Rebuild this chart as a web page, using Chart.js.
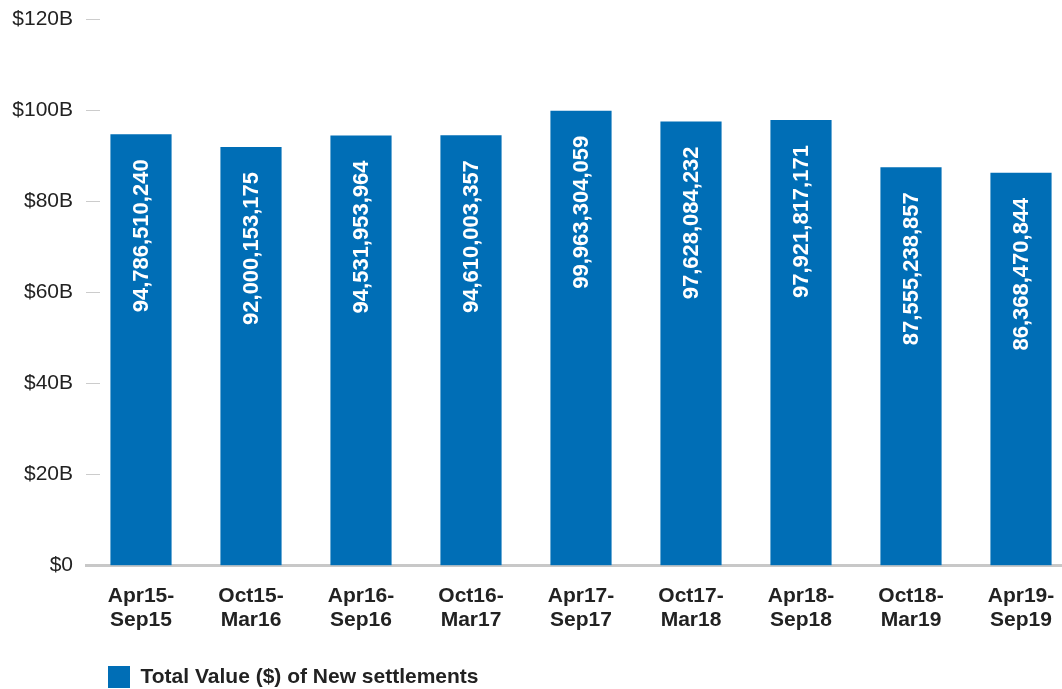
<!DOCTYPE html>
<html>
<head>
<meta charset="utf-8">
<script src="https://cdn.jsdelivr.net/npm/chart.js@4/dist/chart.umd.min.js"></script>
<style>
  html, body { margin: 0; padding: 0; background: #ffffff; overflow: hidden; }
  #wrap { position: relative; width: 1062px; height: 689px; overflow: hidden; }
  #c { position: absolute; left: 0; top: -20px; }
</style>
</head>
<body>
<div id="wrap"><canvas id="c" width="1076" height="718"></canvas></div>
<script>
const categories = [
  ["Apr15-", "Sep15"], ["Oct15-", "Mar16"], ["Apr16-", "Sep16"],
  ["Oct16-", "Mar17"], ["Apr17-", "Sep17"], ["Oct17-", "Mar18"],
  ["Apr18-", "Sep18"], ["Oct18-", "Mar19"], ["Apr19-", "Sep19"]
];
const totalValues = [
  94786510240, 92000153175, 94531953964, 94610003357, 99963304059,
  97628084232, 97921817171, 87555238857, 86368470844
];
const yTickValues = [0, 20e9, 40e9, 60e9, 80e9, 100e9, 120e9];
const seriesName = "Total Value ($) of New settlements";

const FONT = "'Liberation Sans', Arial, Helvetica, sans-serif";
const BLUE = "#006eb6";

const barLabels = {
  id: 'barLabels',
  afterDatasetsDraw(chart) {
    const ctx = chart.ctx;
    const meta = chart.getDatasetMeta(0);
    ctx.save();
    ctx.fillStyle = '#ffffff';
    ctx.font = "bold 22px " + FONT;
    ctx.textAlign = 'right';
    ctx.textBaseline = 'middle';
    meta.data.forEach((bar, i) => {
      const v = chart.data.datasets[0].data[i];
      ctx.save();
      ctx.translate(bar.x + 1, bar.y + 25);
      ctx.rotate(-Math.PI / 2);
      ctx.fillText(v.toLocaleString('en-US'), 0, 0);
      ctx.restore();
    });
    ctx.restore();
  }
};

const legendShift = {
  id: 'legendShift',
  afterLayout(chart) {
    if (chart.legend) {
      chart.legend.left += 6;
      chart.legend.right += 6;
    }
  }
};

new Chart(document.getElementById('c'), {
  type: 'bar',
  data: {
    labels: categories,
    datasets: [{
      label: seriesName,
      data: totalValues,
      backgroundColor: BLUE,
      borderWidth: 0,
      barPercentage: 0.556,
      categoryPercentage: 1.0
    }]
  },
  options: {
    responsive: false,
    animation: false,
    layout: { padding: { top: 8, right: 0, left: 0, bottom: 0 } },
    plugins: {
      tooltip: { enabled: false },
      legend: {
        position: 'bottom',
        align: 'start',
        fullSize: false,
        labels: {
          boxWidth: 22,
          boxHeight: 22,
          padding: 16,
          color: '#222222',
          font: { family: FONT, size: 21, weight: 'bold' }
        }
      }
    },
    scales: {
      x: {
        grid: { display: false, drawTicks: false },
        border: { display: true, color: '#c8c8c8', width: 3 },
        ticks: {
          color: '#222222',
          padding: 18,
          maxRotation: 0,
          autoSkip: false,
          font: { family: FONT, size: 21, weight: 'bold', lineHeight: 1.15 }
        }
      },
      y: {
        min: 0,
        max: 120e9,
        afterBuildTicks(scale) {
          scale.ticks = yTickValues.map(v => ({ value: v }));
        },
        afterFit(scale) {
          scale.width = 86;
        },
        grid: {
          drawOnChartArea: false,
          drawTicks: true,
          tickLength: -14,
          color: '#cccccc',
          lineWidth: 1
        },
        border: { display: false },
        ticks: {
          color: '#222222',
          padding: 27,
          font: { family: FONT, size: 21 },
          callback: v => v === 0 ? '$0' : '$' + (v / 1e9) + 'B'
        }
      }
    }
  },
  plugins: [barLabels, legendShift]
});
</script>
</body>
</html>
